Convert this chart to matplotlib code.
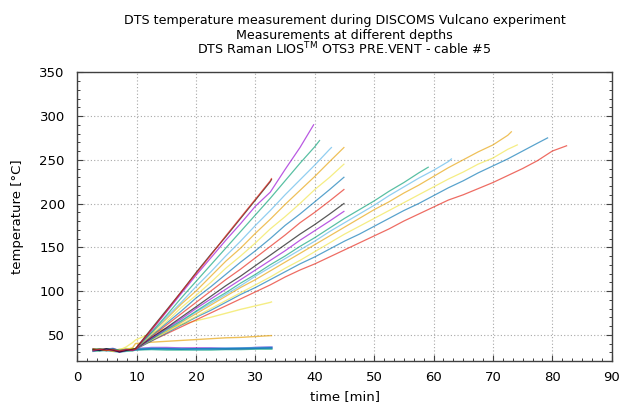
import matplotlib
matplotlib.use('Agg')
import matplotlib.pyplot as plt
from matplotlib.ticker import MultipleLocator

# ---- colours (gnuplot default palette) ----
PURPLE = '#9400D3'
GREEN = '#009E73'
LBLUE = '#56B4E9'
ORANGE = '#E69F00'
YELLOW = '#F0E442'
BLUE = '#0072B2'
RED = '#E51E10'
BLACK = '#000000'

# ---- time axes [min] ----
t_pre = [2.7, 3.8, 4.9, 6.0, 7.1, 8.2, 9.3]
t_rise = [9.8, 12.5, 15.0, 17.5, 20.0, 22.5, 25.0, 27.5, 30.0, 32.5, 35.0,
          37.5, 40.0, 42.5, 45.0, 47.5, 50.0, 52.5, 55.0, 57.5, 60.0, 62.5,
          65.0, 67.5, 70.0, 72.5, 75.0, 77.5, 80.0]

# ---- temperatures [degC] per depth ----
red_a_pre = [32.5, 33.5, 32.0, 33.0, 31.5, 33.0, 32.5]
red_a = [33.5, 56, 77, 99, 120, 141, 163, 184, 205, 226]
red_a_end = (32.7, 228.5)

black_a_pre = [33.0, 32.0, 34.0, 32.5, 30.5, 32.0, 33.5]
black_a = [34, 57, 78, 99, 121, 142, 162, 183, 204, 225]
black_a_end = (32.7, 227.5)

purple_a_pre = [31.5, 33.0, 33.5, 32.0, 31.0, 33.0, 32.0]
purple_a = [33.5, 55, 76, 97, 118, 138, 158, 177, 197, 213, 239, 264]
purple_a_end = (39.8, 290)

green_a_pre = [33.0, 34.0, 32.5, 33.5, 32.0, 32.5, 33.0]
green_a = [34, 53, 72, 92, 111, 130, 149, 168, 187, 206, 226, 246, 265]
green_a_end = (40.8, 272)

lblue_a_pre = [32.0, 32.5, 33.5, 33.0, 31.5, 33.5, 32.5]
lblue_a = [34, 52, 70, 87, 105, 122, 140, 157, 175, 192, 210, 227, 244, 262]
lblue_a_end = (42.8, 264)

orange_a_pre = [33.5, 33.0, 32.0, 32.5, 32.0, 33.0, 34.0]
orange_a = [34, 52, 68, 85, 100, 117, 134, 149, 166, 182, 199, 215, 231, 248]
orange_a_end = (44.9, 264)

yellow_a_pre = [32.5, 34.0, 33.0, 31.5, 33.0, 34.5, 34.0]
yellow_a = [34, 50, 65, 81, 95, 110, 126, 140, 155, 171, 185, 200, 216, 230]
yellow_a_end = (44.9, 245)

blue_a_pre = [33.0, 32.0, 33.0, 34.0, 32.5, 32.0, 33.0]
blue_a = [33.5, 49, 63, 77, 92, 105, 119, 133, 146, 160, 175, 188, 202, 216]
blue_a_end = (44.9, 230)

red_b_pre = [32.0, 33.0, 33.5, 32.0, 31.0, 32.5, 33.0]
red_b = [33.5, 48, 61, 74, 87, 100, 113, 125, 138, 151, 164, 178, 190, 203]
red_b_end = (44.9, 216)

black_b_pre = [33.5, 32.5, 32.0, 33.0, 32.0, 33.5, 32.5]
black_b = [34, 47, 58, 70, 82, 94, 106, 117, 129, 141, 153, 165, 176, 188]
black_b_end = (44.9, 200)

purple_b_pre = [32.0, 34.0, 32.5, 33.0, 30.0, 32.0, 33.0]
purple_b = [33.5, 46, 57, 68, 80, 91, 102, 113, 124, 135, 146, 158, 169, 180]
purple_b_end = (44.9, 191)

green_b_pre = [33.0, 32.5, 34.0, 32.0, 32.5, 33.0, 33.5]
green_b = [34, 45, 56, 66, 77, 88, 98, 109, 119, 130, 140, 151, 161, 172, 183,
           193, 203, 214, 224, 235]
green_b_end = (59.1, 241.5)

lblue_b_pre = [32.5, 33.0, 32.0, 33.5, 32.5, 31.5, 33.0]
lblue_b = [34, 45, 55, 65, 76, 86, 96, 106, 117, 127, 137, 147, 157, 168, 178,
           188, 198, 209, 219, 229, 238, 248]
lblue_b_end = (63.0, 251)

orange_b_pre = [34.0, 32.5, 33.0, 32.0, 33.5, 32.5, 32.0]
orange_b = [34, 45, 54, 64, 74, 84, 94, 104, 113, 123, 133, 143, 153, 163, 173,
            183, 193, 202, 212, 221, 231, 241, 250, 259, 267, 278]
orange_b_end = (73.1, 282)

yellow_b_pre = [33.0, 33.5, 32.5, 33.0, 31.5, 33.0, 34.5]
yellow_b = [34, 44, 53, 62, 71, 80, 89, 98, 107, 116, 126, 135, 145, 155, 165,
            174, 183, 192, 201, 210, 219, 228, 236, 245, 252, 262]
yellow_b_end = (74.1, 267)

blue_b_pre = [32.5, 32.0, 33.5, 33.0, 32.0, 33.5, 32.5]
blue_b = [33.5, 43, 52, 61, 70, 78, 87, 96, 104, 113, 122, 131, 139, 148, 157,
          165, 174, 183, 192, 200, 209, 218, 226, 235, 243, 251, 260, 269]
blue_b_end = (79.2, 275)

red_c_pre = [33.0, 33.0, 32.0, 33.5, 32.5, 32.0, 33.0]
red_c = [33.5, 43, 51, 59, 67, 75, 83, 91, 99, 107, 116, 124, 131, 139, 147,
         155, 163, 171, 180, 188, 196, 204, 210, 217, 224, 232, 240, 249, 260]
red_c_end = (82.4, 266)

yellow_s_pre = [33.0, 32.0, 34.0, 33.0, 32.5, 36.0, 41.0]
yellow_s = [44, 52, 57, 61.5, 66, 70, 74.5, 79, 83, 87]
yellow_s_end = (32.7, 87.5)

orange_s_pre = [32.0, 33.5, 33.0, 31.0, 33.0, 33.0, 35.0]
orange_s = [40, 41.5, 42.5, 43.5, 44.5, 45.5, 46.5, 47, 48, 49]
orange_s_end = (32.7, 49)

purple_f_pre = [33.5, 32.5, 33.0, 34.0, 31.0, 32.5, 33.0]
purple_f = [33.5, 35, 35, 34.5, 34.5, 34.5, 34, 34, 35, 35.5]
purple_f_end = (32.7, 35.5)

green_f_pre = [31.5, 32.0, 32.5, 31.5, 30.5, 31.5, 32.0]
green_f = [33, 33.5, 33, 33, 33, 33, 33.5, 33.5, 34, 34]
green_f_end = (32.7, 34)

lblue_f_pre = [33.0, 33.5, 32.0, 32.5, 31.5, 33.0, 33.5]
lblue_f = [33.5, 34.5, 34, 34, 33.5, 34, 34.5, 34.5, 35, 35.5]
lblue_f_end = (32.7, 35.5)

blue_f_pre = [32.0, 33.0, 33.5, 32.5, 32.0, 32.5, 32.5]
blue_f = [33, 34, 34, 33.5, 34, 34, 34, 34.5, 34.5, 35]
blue_f_end = (32.7, 35)

series = [
    (purple_f_pre, purple_f, purple_f_end, PURPLE, 1.6),
    (green_f_pre, green_f, green_f_end, GREEN, 1.6),
    (lblue_f_pre, lblue_f, lblue_f_end, LBLUE, 1.6),
    (blue_f_pre, blue_f, blue_f_end, BLUE, 1.2),
    (orange_s_pre, orange_s, orange_s_end, ORANGE, 1.0),
    (yellow_s_pre, yellow_s, yellow_s_end, YELLOW, 1.0),
    (red_c_pre, red_c, red_c_end, RED, 0.9),
    (blue_b_pre, blue_b, blue_b_end, BLUE, 0.9),
    (yellow_b_pre, yellow_b, yellow_b_end, YELLOW, 0.9),
    (orange_b_pre, orange_b, orange_b_end, ORANGE, 0.9),
    (lblue_b_pre, lblue_b, lblue_b_end, LBLUE, 0.9),
    (green_b_pre, green_b, green_b_end, GREEN, 0.9),
    (purple_b_pre, purple_b, purple_b_end, PURPLE, 0.9),
    (black_b_pre, black_b, black_b_end, BLACK, 0.9),
    (red_b_pre, red_b, red_b_end, RED, 0.9),
    (blue_a_pre, blue_a, blue_a_end, BLUE, 0.9),
    (yellow_a_pre, yellow_a, yellow_a_end, YELLOW, 0.9),
    (orange_a_pre, orange_a, orange_a_end, ORANGE, 0.9),
    (lblue_a_pre, lblue_a, lblue_a_end, LBLUE, 0.9),
    (green_a_pre, green_a, green_a_end, GREEN, 0.9),
    (purple_a_pre, purple_a, purple_a_end, PURPLE, 0.9),
    (black_a_pre, black_a, black_a_end, BLACK, 0.9),
    (red_a_pre, red_a, red_a_end, RED, 0.9),
]

fig = plt.figure(figsize=(6.2, 4.05), dpi=100)
ax = fig.add_axes([77.3 / 620, 1 - 361 / 405, (611.7 - 77.3) / 620, (361 - 72.3) / 405])

for pre, rise, end, col, lw in series:
    tt = t_pre + t_rise[:len(rise)] + [end[0]]
    vv = pre + rise + [end[1]]
    ax.plot(tt, vv, color=col, lw=lw, alpha=0.65, solid_joinstyle='round')

ax.set_xlim(0, 90)
ax.set_ylim(20, 350)
ax.xaxis.set_major_locator(MultipleLocator(10))
ax.xaxis.set_minor_locator(MultipleLocator(10 / 6))
ax.yaxis.set_major_locator(MultipleLocator(50))
ax.yaxis.set_minor_locator(MultipleLocator(10))

ax.grid(True, which='major', color='#a8a8a8', lw=0.8, linestyle=(0, (1, 2)))
ax.set_axisbelow(True)

ax.tick_params(which='both', direction='in', top=False, right=True, color='#404040')
ax.tick_params(which='major', length=4, width=0.8, labelsize=9.5)
ax.tick_params(which='minor', length=2, width=0.7)
ax.tick_params(axis='y', which='major', pad=9)
ax.tick_params(axis='x', which='major', pad=7)
for s in ax.spines.values():
    s.set_color('#404040')
    s.set_linewidth(1.0)

fig.text(344.5 / 620, 1 - 397 / 405, 'time [min]', ha='center', va='center', fontsize=9.5)
fig.text(18 / 620, 1 - 216.7 / 405, 'temperature [°C]', ha='center', va='center',
         rotation=90, fontsize=9.5)

fig.text(344.5 / 620, 1 - 24 / 405, 'DTS temperature measurement during DISCOMS Vulcano experiment',
         ha='center', va='baseline', fontsize=9.1)
fig.text(344.5 / 620, 1 - 39 / 405, 'Measurements at different depths',
         ha='center', va='baseline', fontsize=9.1)
fig.text(344.5 / 620, 1 - 54.3 / 405, r'DTS Raman LIOS$^{\mathrm{TM}}$ OTS3 PRE.VENT - cable #5',
         ha='center', va='baseline', fontsize=9.1)

fig.savefig('out.png', dpi=100)
